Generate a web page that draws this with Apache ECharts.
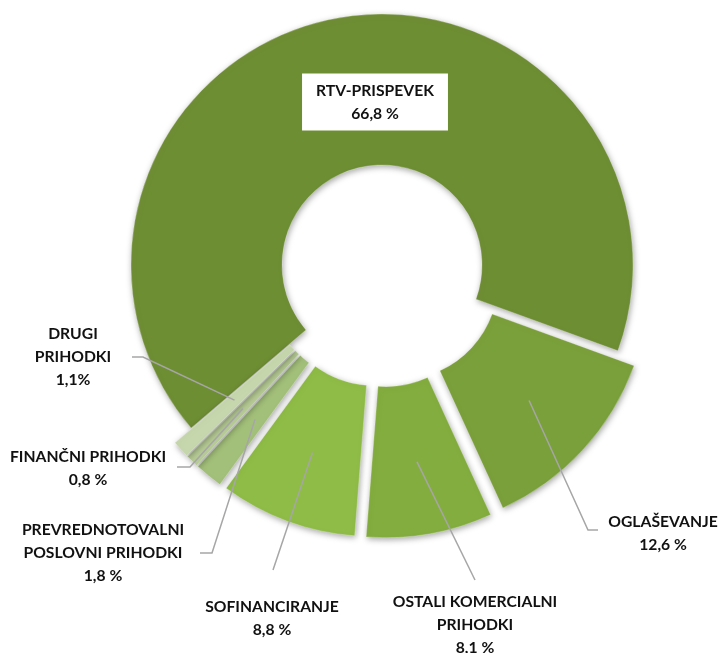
<!DOCTYPE html>
<html>
<head>
<meta charset="utf-8">
<script src="https://cdn.jsdelivr.net/npm/echarts@6/dist/echarts.min.js"></script>
<style>
  html, body { margin: 0; padding: 0; background: #fff; }
  #chart { width: 720px; height: 653px; }
</style>
</head>
<body>
<div id="chart"></div>
<script>
// podatki (clockwise, starting with the big slice)
var names = ['RTV-PRISPEVEK', 'OGLAŠEVANJE', 'OSTALI KOMERCIALNI\nPRIHODKI', 'SOFINANCIRANJE',
             'PREVREDNOTOVALNI\nPOSLOVNI PRIHODKI', 'FINANČNI PRIHODKI', 'DRUGI\nPRIHODKI'];
var shares = [66.8, 12.6, 8.1, 8.8, 1.8, 0.8, 1.1];
var pctSigns = [' %', ' %', ' %', ' %', ' %', ' %', '%'];
var exploded = [false, true, true, true, true, true, true];

// izgled
var colors = ['#6e8e34', '#7aa03b', '#84ad3f', '#8fbc46', '#a3c07a', '#b6cb95', '#c6d6ad'];
var CX = 382, CY = 265, R_IN = 100, R_OUT = 251, OFFSET = 22;
var START = 229.5;        // stopinje, v smeri urinega kazalca od vrha
var LINE_R = 178;         // kje se vodilna crta zacne v izseku
// polozaj oznak (sredina bloka) in lomna tocka vodilne crte
var labelPos = [[375, 102], [663, 533], [475, 625], [272, 618], [103, 553], [88, 468], [73, 357]];
var lineAnchor = [null, [[598, 530], [588, 530]], [[475, 580], [475, 580]], [[273, 570], [273, 570]],
                  [[200, 553], [212, 553]], [[177, 467], [190, 467]], [[132, 357], [143, 357]]];

var total = shares.reduce(function (a, b) { return a + b; }, 0);
function innerPoint(i) {
    var before = 0;
    for (var k = 0; k < i; k++) before += shares[k];
    var ang = (START + (before + shares[i] / 2) / total * 360) * Math.PI / 180;
    var r = LINE_R + (exploded[i] ? OFFSET : 0);
    return [CX + r * Math.sin(ang), CY - r * Math.cos(ang)];
}

var myChart = echarts.init(document.getElementById('chart'));
myChart.setOption({
    animation: false,
    series: [{
        // izseki
        type: 'pie',
        z: 2,
        center: [CX, CY],
        radius: [R_IN, R_OUT],
        startAngle: 90 - START,
        clockwise: true,
        selectedMode: 'multiple',
        selectedOffset: OFFSET,
        emphasis: { disabled: true },
        label: { show: false },
        labelLine: { show: false },
        select: { itemStyle: { borderColor: 'rgba(255,255,255,0.25)', borderWidth: 1 } },
        itemStyle: {
            borderColor: 'rgba(255,255,255,0.25)',
            borderWidth: 1,
            shadowBlur: 6,
            shadowColor: 'rgba(0,0,0,0.35)',
            shadowOffsetX: 1,
            shadowOffsetY: 2
        },
        data: names.map(function (n, i) {
            return { name: n, value: shares[i], selected: exploded[i], itemStyle: { color: colors[i] } };
        })
    }, {
        // oznake z vodilnimi crtami (prozorni izseki)
        type: 'pie',
        z: 5,
        silent: true,
        center: [CX, CY],
        radius: [R_IN, R_OUT],
        startAngle: 90 - START,
        clockwise: true,
        avoidLabelOverlap: false,
        emphasis: { disabled: true },
        itemStyle: { color: 'rgba(0,0,0,0)', borderWidth: 0 },
        label: {
            show: true,
            position: 'outside',
            color: '#111',
            fontFamily: 'Lato',
            fontWeight: 'bold',
            fontSize: 15.7,
            lineHeight: 23,
            align: 'center',
            formatter: function (p) {
                return p.name + '\n' + p.value.toFixed(1).replace('.', ',') + pctSigns[p.dataIndex];
            }
        },
        labelLine: {
            show: true,
            lineStyle: { color: '#a6a6a6', width: 1.5 }
        },
        labelLayout: function (params) {
            var i = params.dataIndex;
            var out = { x: labelPos[i][0], y: labelPos[i][1], align: 'center', verticalAlign: 'middle' };
            if (lineAnchor[i]) {
                out.labelLinePoints = [lineAnchor[i][0], lineAnchor[i][1], innerPoint(i)];
            }
            return out;
        },
        data: names.map(function (n, i) {
            var item = { name: n, value: shares[i] };
            if (i === 0) {
                item.label = {
                    position: 'inside',
                    backgroundColor: '#fff',
                    padding: [6, 14, 5, 14]
                };
                item.labelLine = { show: false };
            }
            return item;
        })
    }]
});
</script>
</body>
</html>
